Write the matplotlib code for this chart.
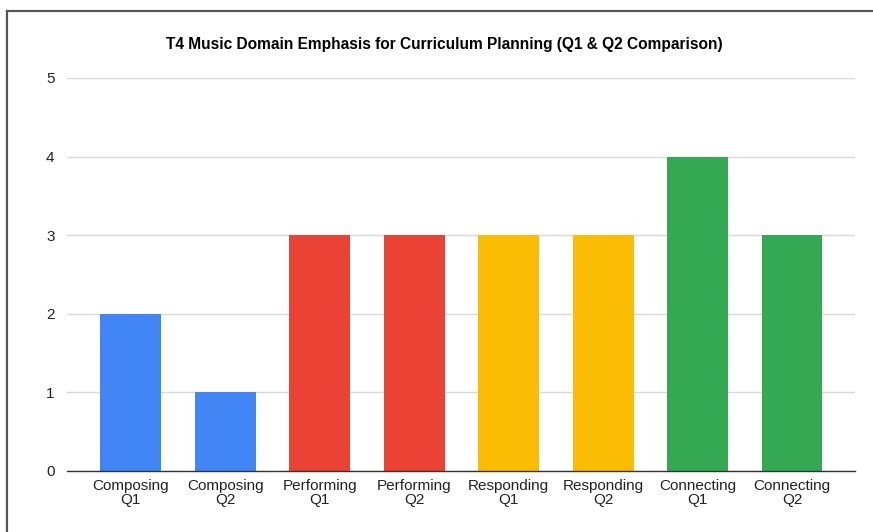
import matplotlib
matplotlib.use("Agg")
import matplotlib.pyplot as plt
from matplotlib.lines import Line2D

categories = ["Composing\nQ1", "Composing\nQ2", "Performing\nQ1", "Performing\nQ2",
              "Responding\nQ1", "Responding\nQ2", "Connecting\nQ1", "Connecting\nQ2"]
values = [2, 1, 3, 3, 3, 3, 4, 3]
colors = ["#4285F4", "#4285F4", "#EA4335", "#EA4335", "#FBBC04", "#FBBC04", "#34A853", "#34A853"]
yticks = [0, 1, 2, 3, 4, 5]
title = "T4 Music Domain Emphasis for Curriculum Planning (Q1 & Q2 Comparison)"

plt.rcParams['font.family'] = ['Liberation Sans', 'DejaVu Sans']

W, H = 873, 532
fig = plt.figure(figsize=(W/100, H/100), dpi=100)
ax = fig.add_axes([67/W, (H-471)/H, (855-67)/W, (471-78)/H])

x = list(range(len(categories)))
ax.bar(x, values, width=0.645, color=colors, zorder=3)
ax.set_xlim(-0.677, 7.667)
ax.set_ylim(0, 5)
ax.set_yticks(yticks)
ax.set_yticklabels([str(v) for v in yticks])
ax.set_xticks(x)
ax.set_xticklabels(categories, linespacing=0.95)
ax.tick_params(axis='both', length=0, labelsize=11, colors='#222222')
ax.tick_params(axis='y', pad=9)
ax.tick_params(axis='x', pad=6)
ax.grid(axis='y', color='#d9d9d9', linewidth=1, zorder=0)
for s in ['top', 'right', 'left']:
    ax.spines[s].set_visible(False)
ax.spines['bottom'].set_color('#333333')
ax.spines['bottom'].set_linewidth(1)
ax.spines['bottom'].set_zorder(4)

fig.text(444/W, 1-45/H, title, ha='center', va='center', fontsize=11.2,
         fontweight='bold', color='#000000')

# frame border (top and left)
fig.add_artist(Line2D([7/W, 7/W], [0, 1-11/H], transform=fig.transFigure, color='#555555', linewidth=1.6))
fig.add_artist(Line2D([7/W, 1], [1-11/H, 1-11/H], transform=fig.transFigure, color='#555555', linewidth=1.6))

fig.savefig("out.png", dpi=100)
